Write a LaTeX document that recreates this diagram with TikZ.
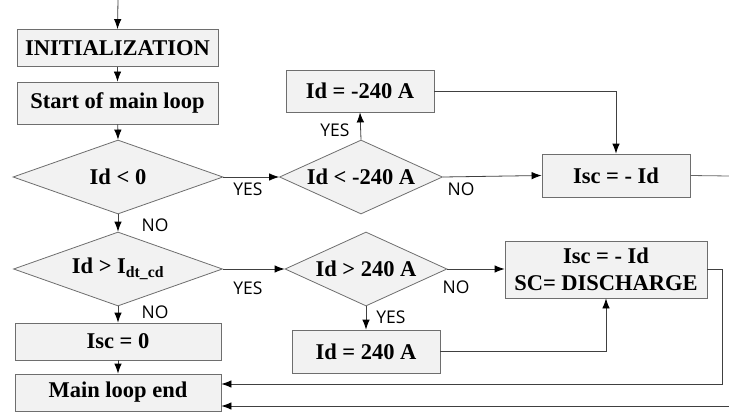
\documentclass[tikz,border=0pt]{standalone}
\usepackage{fontspec}
\setmainfont{Liberation Serif}
\newfontfamily\labelfont{Open Sans}
\usetikzlibrary{shapes.geometric,arrows.meta}
\definecolor{boxfill}{HTML}{F2F2F2}
\definecolor{boxline}{HTML}{6E6E6E}
\definecolor{wire}{HTML}{404040}
\begin{document}
\begin{tikzpicture}[x=1pt,y=-1pt,
  procbox/.style={draw=boxline,fill=boxfill,line width=0.8pt,inner sep=0pt,
    font=\fontsize{22.5}{24}\selectfont\bfseries,align=center},
  decision/.style={diamond,draw=boxline,fill=boxfill,line width=0.8pt,inner sep=0pt,
    font=\fontsize{22.5}{24}\selectfont\bfseries},
  flow/.style={draw=wire,line width=0.8pt,-{Latex[length=10pt,width=7.5pt,color=black]}},
  plainwire/.style={draw=wire!80,line width=0.8pt},
  answer/.style={font=\labelfont\fontsize{17.5}{19}\selectfont,inner sep=0pt,text=black}]
\useasboundingbox (0,0) rectangle (729,412);

% process boxes
\node[procbox,minimum width=201pt,minimum height=37pt] (init) at (117.5,48) {INITIALIZATION};
\node[procbox,minimum width=201pt,minimum height=42pt] (start) at (117.5,103) {Start of main loop};
\node[procbox,minimum width=148pt,minimum height=42pt] (neg) at (360,91) {Id = -240 A};
\node[procbox,minimum width=148pt,minimum height=43pt] (iscA) at (616,175.5) {Isc = - Id};
\node[procbox,minimum width=202pt,minimum height=57pt,font=\fontsize{22.5}{27}\selectfont\bfseries] (iscB) at (606,269.5) {Isc = - Id\\SC= DISCHARGE};
\node[procbox,minimum width=148pt,minimum height=43pt] (pos) at (366,351.5) {Id = 240 A};
\node[procbox,minimum width=206pt,minimum height=37pt] (zero) at (118,341.5) {Isc = 0};
\node[procbox,minimum width=206pt,minimum height=37pt] (mend) at (118,392.5) {Main loop end};

% decisions (aspect = width / height)
\node[decision,aspect=2.84,minimum width=210pt,minimum height=74pt] (dneg) at (118,177) {Id < 0};
\node[decision,aspect=2.2,minimum width=163pt,minimum height=74pt] (dlow) at (361,177) {Id < -240 A};
\node[decision,aspect=2.82,minimum width=209pt,minimum height=74pt] (dcd) at (118,269) {Id > I\textsubscript{dt\_cd}};
\node[decision,aspect=2.19,minimum width=162pt,minimum height=74pt] (dhigh) at (366,269) {Id > 240 A};

% loose ends
\coordinate (entry) at (118,0);
\coordinate (outA) at (729,176);
\coordinate (turn) at (722,269);
\coordinate (backA) at (722,384);
\coordinate (backB) at (729,406);

% connectors
\draw[flow] (entry) -- (init.north);
\draw[flow] (init) -- (start);
\draw[flow] (start) -- (dneg.north);
\draw[flow] (dneg.east) -- (dlow.west);
\draw[flow] (dlow.north) -- (neg.south);
\draw[flow] (neg.east) -| (iscA.north);
\draw[flow] (dlow.east) -- (iscA.west);
\draw[plainwire] (iscA.east) -- (outA);
\draw[flow] (dneg.south) -- (dcd.north);
\draw[flow] (dcd.east) -- (dhigh.west);
\draw[flow] (dhigh.east) -- (dhigh.east -| iscB.west);
\draw[flow] (dhigh.south) -- (pos.north);
\draw[flow] (pos.east) -| (iscB.south);
\draw[flow] (iscB.east |- turn) -- (turn) -- (backA) -- (backA -| mend.east);
\draw[flow] (backB) -- (backB -| mend.east);
\draw[flow] (dcd.south) -- (zero.north);
\draw[flow] (zero) -- (mend);

% branch labels
\node[answer] (y1) at (248,189) {YES};
\node[answer] (n1) at (155,225) {NO};
\node[answer] (y2) at (335,130) {YES};
\node[answer] (n2) at (461,189) {NO};
\node[answer] (y3) at (248,288) {YES};
\node[answer] (n3) at (456,287) {NO};
\node[answer] (y4) at (391,317) {YES};
\node[answer] (n4) at (155,312) {NO};
\end{tikzpicture}
\end{document}
